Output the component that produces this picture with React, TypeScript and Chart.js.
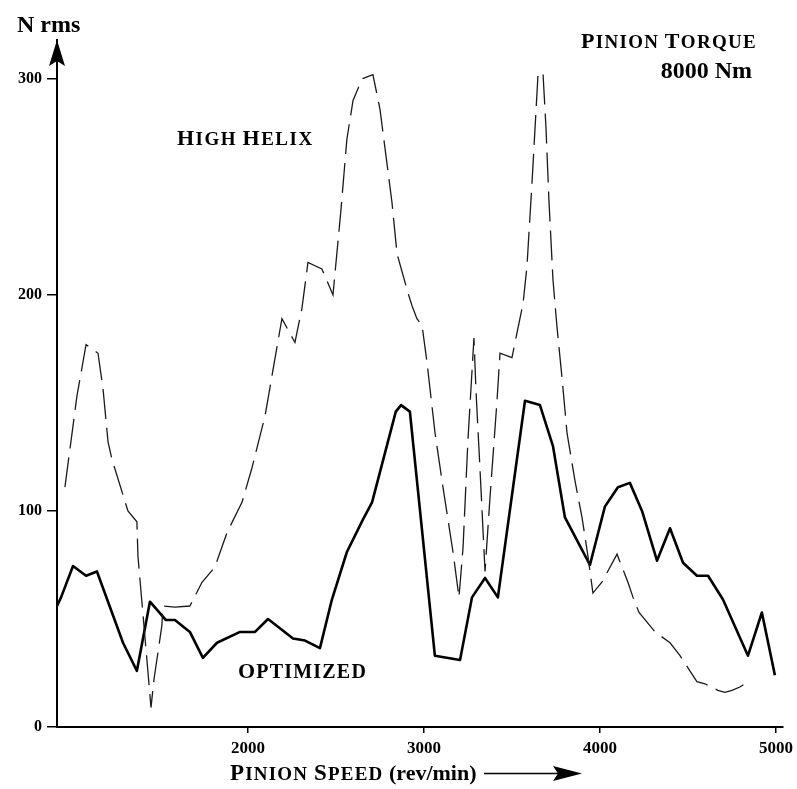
import React, { useEffect, useRef } from "react";
import { Chart, registerables } from "chart.js";

Chart.register(...registerables);

const SERIF = '"Liberation Serif", "Times New Roman", serif';

// Optimized gear set: pinion speed (rev/min) vs. dynamic force (N rms)
const optimizedSpeed = [
  915, 938, 1006, 1080, 1142, 1290, 1369, 1443, 1534, 1585, 1670, 1744, 1824,
  1955, 2040, 2114, 2256, 2324, 2409, 2477, 2562, 2653, 2705, 2840, 2870, 2920,
  3062, 3205, 3273, 3347, 3420, 3574, 3659, 3733, 3801, 3943, 4028, 4102, 4170,
  4239, 4324, 4398, 4472, 4551, 4614, 4699, 4841, 4920, 4994,
];
const optimizedNrms = [
  56, 60, 74.5, 70, 72, 39, 26, 58, 49.5, 49.5, 44, 32, 39,
  44, 44, 50, 41, 40, 36.5, 59, 81, 96, 104, 146, 149, 146,
  33, 31, 60, 69, 60, 151, 149, 130, 97, 75, 102, 111, 113,
  100, 77, 92, 76, 70, 70, 59, 33, 53, 24,
];

// High helix gear set
const highHelixSpeed = [
  960, 1028, 1080, 1148, 1176, 1205, 1227, 1318, 1369, 1375, 1426, 1449, 1466,
  1511, 1517, 1585, 1670, 1739, 1812, 1881, 1966, 2023, 2097, 2165, 2193, 2267,
  2307, 2341, 2420, 2483, 2528, 2562, 2597, 2648, 2710, 2750, 2818, 2847, 2909,
  2932, 2960, 2989, 3017, 3063, 3108, 3165, 3199, 3222, 3250, 3284, 3296, 3318,
  3347, 3375, 3415, 3432, 3500, 3540, 3563, 3585, 3614, 3648, 3676, 3693, 3710,
  3733, 3756, 3784, 3813, 3858, 3898, 3932, 3960, 4011, 4097, 4159, 4188, 4222,
  4313, 4398, 4455, 4511, 4551, 4597, 4670, 4710, 4750, 4795, 4841,
];
const highHelixNrms = [
  111, 153, 177, 173, 157, 132, 124, 100, 95, 79, 31, 9, 22,
  47, 56, 55.5, 56, 67, 74, 90, 104, 120, 144, 176, 189, 178,
  194, 215, 212, 200, 239, 272, 290, 300, 302, 286, 243, 219, 201,
  195, 189, 186, 169, 136, 111, 81, 60, 83, 133, 180, 155, 120,
  72, 106, 151, 173, 171, 187, 196, 213, 252, 302, 303, 278, 244,
  207, 185, 162, 136, 114, 97, 79, 62, 67, 80, 67, 60, 53,
  44, 39, 33, 26, 21, 20, 17, 16, 17, 18.5, 21,
];

const speedTicks = [2000, 3000, 4000, 5000];
const forceTicks = [0, 100, 200, 300];

const speedRange = [915, 5040];
const forceRange = [0, 318];

function pairs(xs: number[], ys: number[]) {
  return xs.map((x, i) => ({ x, y: ys[i] }));
}

// Words drawn with a large initial capital and small capitals after it.
function capsWidth(ctx: CanvasRenderingContext2D, text: string, big: number, small: number, spacing: number) {
  let w = 0;
  let start = true;
  for (const ch of text) {
    const size = start || !/[A-Za-z]/.test(ch) ? big : small;
    ctx.font = `bold ${size}px ${SERIF}`;
    w += ctx.measureText(ch.toUpperCase()).width + (ch === " " ? 0 : spacing);
    start = ch === " ";
  }
  return w;
}

function drawCaps(
  ctx: CanvasRenderingContext2D,
  text: string,
  x: number,
  y: number,
  big: number,
  small: number,
  spacing: number,
  align: "left" | "right" = "left"
) {
  let cx = align === "right" ? x - capsWidth(ctx, text, big, small, spacing) : x;
  let start = true;
  ctx.textAlign = "left";
  ctx.textBaseline = "alphabetic";
  for (const ch of text) {
    const size = start || !/[A-Za-z]/.test(ch) ? big : small;
    ctx.font = `bold ${size}px ${SERIF}`;
    const up = ch.toUpperCase();
    ctx.fillText(up, cx, y);
    cx += ctx.measureText(up).width + (ch === " " ? 0 : spacing);
    start = ch === " ";
  }
  return cx;
}

const decorations = {
  id: "decorations",
  afterDraw(chart: any) {
    const ctx: CanvasRenderingContext2D = chart.ctx;
    const { left, top } = chart.chartArea;
    ctx.save();
    ctx.fillStyle = "#000";
    ctx.strokeStyle = "#000";

    // arrowhead on the force axis
    ctx.beginPath();
    ctx.moveTo(left, top);
    ctx.lineTo(left + 8, top + 26);
    ctx.lineTo(left, top + 21);
    ctx.lineTo(left - 8, top + 26);
    ctx.closePath();
    ctx.fill();

    // axis title
    ctx.font = `bold 24px ${SERIF}`;
    ctx.textAlign = "left";
    ctx.textBaseline = "alphabetic";
    ctx.fillText("N rms", 17, 32);

    // series and load-case labels
    drawCaps(ctx, "High Helix", 177, 145, 22, 19, 1.5);
    drawCaps(ctx, "Optimized", 238, 678, 22, 20, 1.2);
    drawCaps(ctx, "Pinion Torque", 757, 48, 22, 19, 1.3, "right");
    ctx.font = `bold 24px ${SERIF}`;
    ctx.textAlign = "right";
    ctx.fillText("8000 Nm", 752, 78);

    // speed axis title with its arrow
    const end = drawCaps(ctx, "Pinion Speed", 230, 780, 23, 19, 1.2);
    ctx.font = `bold 22px ${SERIF}`;
    ctx.textAlign = "left";
    ctx.fillText(" (rev/min)", end, 780);
    ctx.lineWidth = 1.5;
    ctx.beginPath();
    ctx.moveTo(484, 773.5);
    ctx.lineTo(558, 773.5);
    ctx.stroke();
    ctx.beginPath();
    ctx.moveTo(582, 773.5);
    ctx.lineTo(553, 766);
    ctx.lineTo(558, 773.5);
    ctx.lineTo(553, 781);
    ctx.closePath();
    ctx.fill();
    ctx.restore();
  },
};

export default function App() {
  const canvasRef = useRef<HTMLCanvasElement | null>(null);

  useEffect(() => {
    if (!canvasRef.current) return;
    const chart = new Chart(canvasRef.current, {
      type: "line",
      data: {
        datasets: [
          {
            label: "High Helix",
            data: pairs(highHelixSpeed, highHelixNrms),
            borderColor: "#1a1a1a",
            borderWidth: 1.3,
            borderDash: [30, 9],
            pointRadius: 0,
            tension: 0,
            fill: false,
          },
          {
            label: "Optimized",
            data: pairs(optimizedSpeed, optimizedNrms),
            borderColor: "#000",
            borderWidth: 2.6,
            pointRadius: 0,
            tension: 0,
            fill: false,
            borderJoinStyle: "round",
          },
        ],
      },
      options: {
        responsive: false,
        animation: false,
        devicePixelRatio: 1,
        layout: { padding: { left: 0, top: 40, right: 14, bottom: 0 } },
        plugins: { legend: { display: false }, tooltip: { enabled: false } },
        scales: {
          x: {
            type: "linear",
            min: speedRange[0],
            max: speedRange[1],
            afterBuildTicks: (s: any) => {
              s.ticks = speedTicks.map((value) => ({ value }));
            },
            afterFit: (s: any) => {
              s.height = 62;
              s.paddingLeft = 0;
              s.paddingRight = 0;
            },
            border: { display: true, color: "#000", width: 2 },
            grid: { drawOnChartArea: false, drawTicks: true, tickLength: 6, color: "#000", lineWidth: 1.5 },
            ticks: {
              color: "#000",
              padding: 5,
              maxRotation: 0,
              font: { family: SERIF, size: 17, weight: "bold" },
              callback: (v: any) => String(v),
            },
          },
          y: {
            type: "linear",
            min: forceRange[0],
            max: forceRange[1],
            afterBuildTicks: (s: any) => {
              s.ticks = forceTicks.map((value) => ({ value }));
            },
            afterFit: (s: any) => {
              s.width = 57;
              s.paddingTop = 0;
              s.paddingBottom = 0;
            },
            border: { display: true, color: "#000", width: 2 },
            grid: { drawOnChartArea: false, drawTicks: true, tickLength: 10, color: "#000", lineWidth: 1.5 },
            ticks: {
              color: "#000",
              padding: 5,
              font: { family: SERIF, size: 16, weight: "bold" },
              callback: (v: any) => String(v),
            },
          },
        },
      },
      plugins: [decorations],
    });
    return () => chart.destroy();
  }, []);

  return (
    <div style={{ position: "fixed", left: 0, top: 0, width: 797, height: 789, background: "#fff" }}>
      <canvas ref={canvasRef} width={797} height={789} style={{ display: "block" }} />
    </div>
  );
}
